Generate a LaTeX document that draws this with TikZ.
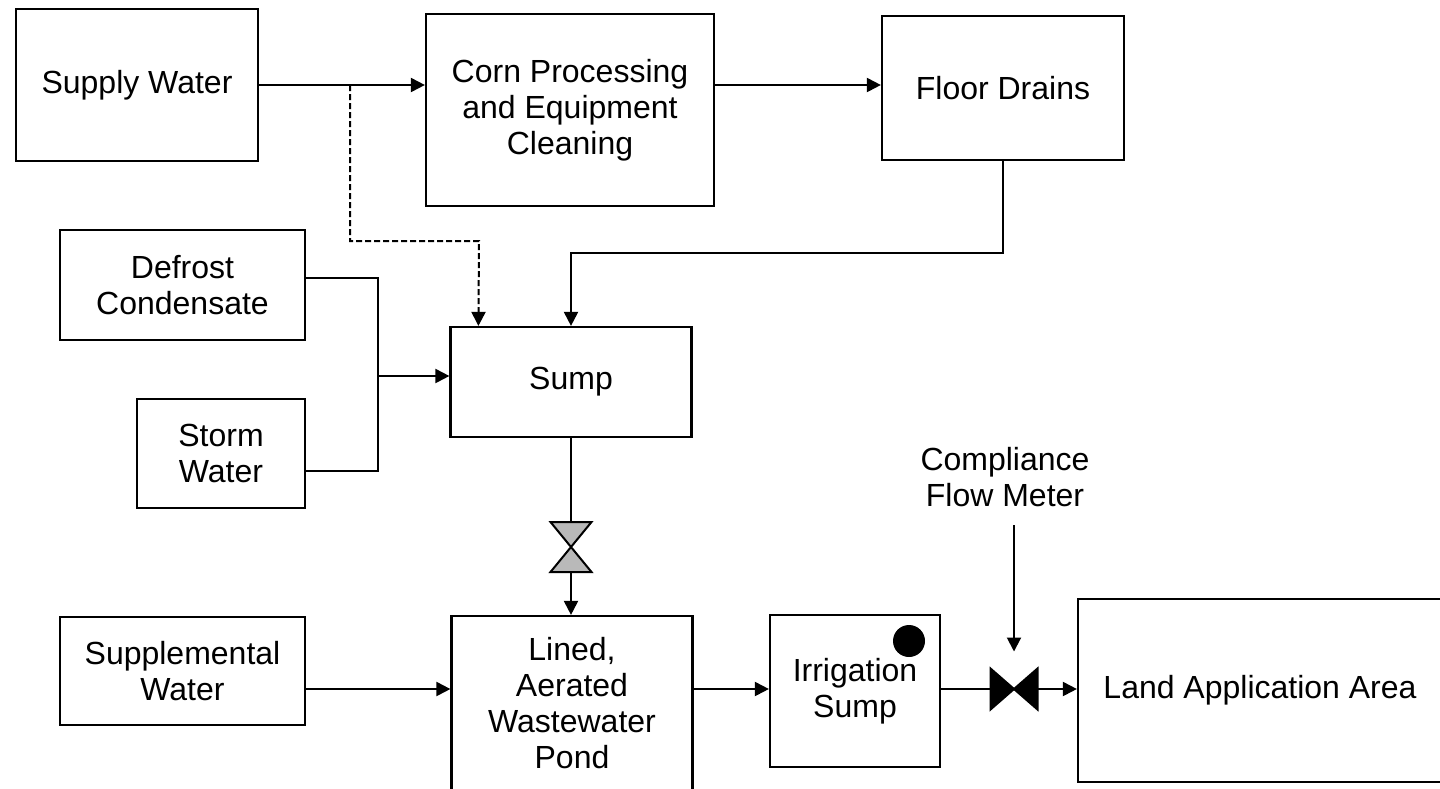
\documentclass[tikz,border=0pt]{standalone}
\usepackage{fontspec}
\setmainfont{Liberation Sans}
\usetikzlibrary{arrows.meta,calc}
\begin{document}
\begin{tikzpicture}[x=0.5pt,y=-0.5pt,line width=1pt,
  box/.style={draw,line width=1.1pt,inner sep=0pt,align=center,
    font=\fontsize{16}{18}\selectfont},
  lbl/.style={inner sep=0pt,align=center,font=\fontsize{16}{18}\selectfont},
  arr/.style={-{Triangle[length=7pt,width=7pt]}},
  dsh/.style={dash pattern=on 3pt off 1.5pt},
  valve/.style={inner sep=0pt}]
\clip (0,0) rectangle (1440,788);
\fill[white] (0,0) rectangle (1440,788);
% boxes
\node[box,minimum width=121pt,minimum height=76pt] (sw) at (137,85) {Supply Water};
\node[box,minimum width=144pt,minimum height=96pt] (corn) at (570,110) {Corn Processing\\and Equipment\\Cleaning};
\node[box,minimum width=121pt,minimum height=72pt] (floor) at (1003,88) {Floor Drains};
\node[box,minimum width=122.5pt,minimum height=55pt] (def) at (182.5,285) {Defrost\\Condensate};
\node[box,minimum width=84pt,minimum height=54.5pt] (storm) at (221,453.5) {Storm\\Water};
\node[box,minimum width=120.5pt,minimum height=55pt] (sump) at (571,382) {Sump};
\node[box,minimum width=122.5pt,minimum height=54pt] (supp) at (182.5,671) {Supplemental\\Water};
\node[box,minimum width=120.5pt,minimum height=87pt] (pond) at (572,703) {Lined,\\Aerated\\Wastewater\\Pond};
\node[box,minimum width=85pt,minimum height=76pt] (irr) at (855,691) {Irrigation\\Sump};
\node[box,minimum width=182pt,minimum height=91.5pt] (land) at (1260,690.5) {Land Application Area};
\node[lbl] (cfm) at (1005,477) {Compliance\\Flow Meter};
\fill (909,641) circle[radius=16];
% valves
\node[valve,minimum width=19.5pt,minimum height=24pt] (v1) at (571,547) {};
\filldraw[fill=gray!55] (v1.north west) -- (v1.north east) -- (v1.south west) -- (v1.south east) -- cycle;
\node[valve,minimum width=22.5pt,minimum height=19.5pt] (v2) at (1014,689) {};
\filldraw[fill=black] (v2.north west) -- (v2.south west) -- (v2.north east) -- (v2.south east) -- cycle;
% connectors
\coordinate (s0) at (sw.east);
\draw[arr] (s0) -- (s0 -| corn.west);
\draw[arr] (s0 -| corn.east) -- (s0 -| floor.west);
\coordinate (d0) at (350,85);
\coordinate (d1) at (479,241);
\coordinate (d2) at ($(sump.north west)+(29,0)$);
\draw[arr,dsh] (d0) |- (d1) -- (d2);
\coordinate (f1) at ($(sump.north)+(0,-73)$);
\draw[arr] (floor.south) |- (f1) -- (sump.north);
\coordinate (a1) at ($(def.east)+(0,-7)$);
\coordinate (a2) at ($(storm.east)+(0,17.5)$);
\coordinate (a3) at (378,376);
\draw (a1) -| (a3) |- (a2);
\draw[arr] (a3) -- (a3 -| sump.west);
\draw (sump.south) -- (v1.north);
\draw[arr] (v1.south) -- (v1.south |- pond.north);
\coordinate (b1) at ($(supp.east)+(0,18)$);
\draw[arr] (b1) -- (b1 -| pond.west);
\coordinate (b2) at (pond.east |- v2.west);
\draw[arr] (b2) -- (b2 -| irr.west);
\draw (b2 -| irr.east) -- (v2.west);
\draw[arr] (v2.east) -- (v2.east -| land.west);
\coordinate (c1) at (1014,525);
\draw[arr,shorten >=8.5pt] (c1) -- (v2.north);
\end{tikzpicture}
\end{document}
